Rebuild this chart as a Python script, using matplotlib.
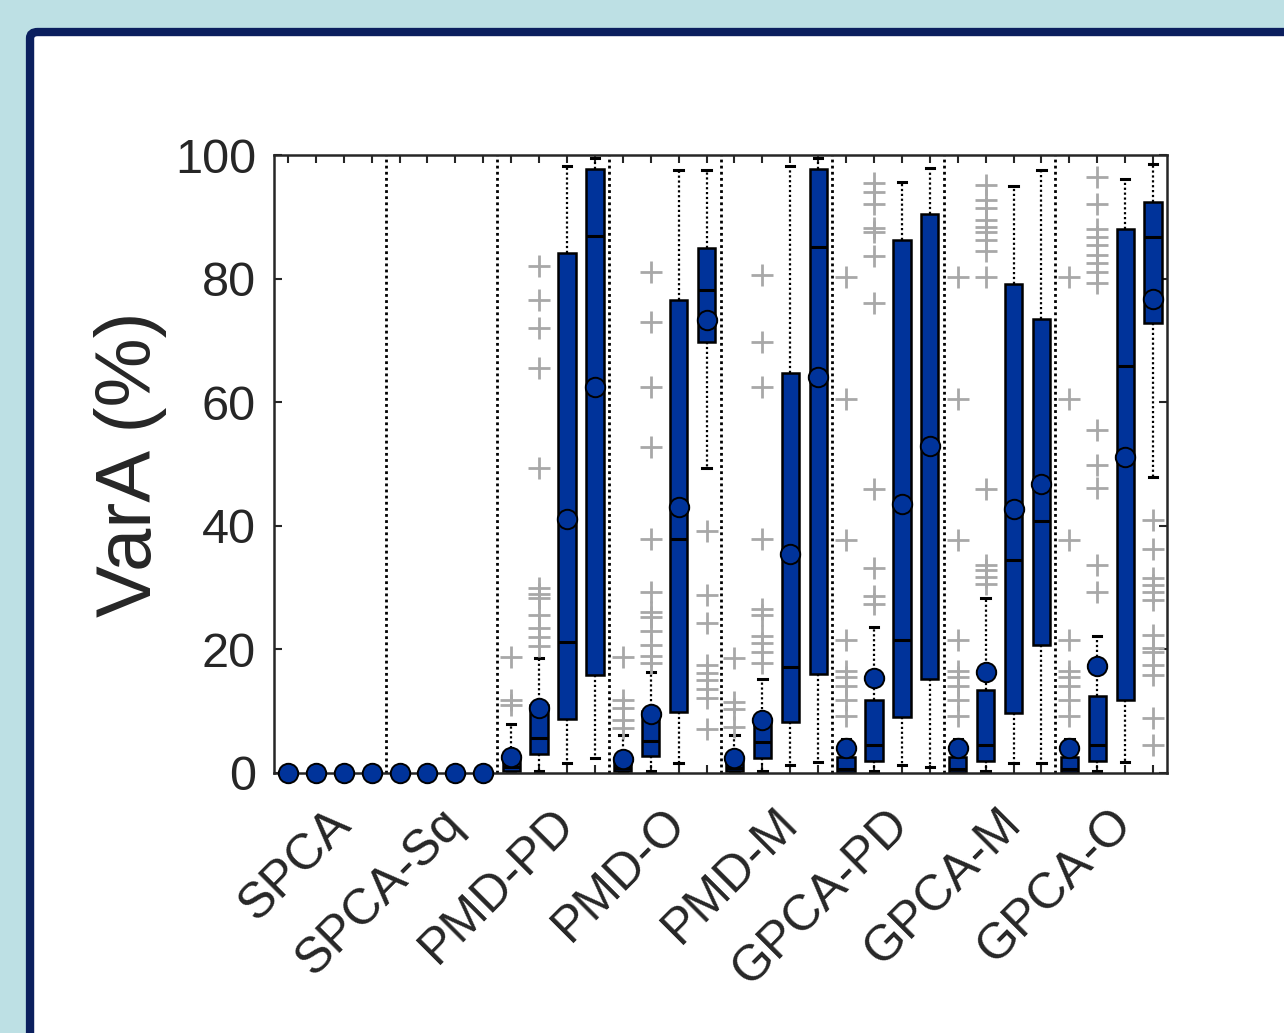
import numpy as np
import matplotlib.pyplot as plt
from matplotlib.patches import FancyBboxPatch

plt.rcParams['font.family'] = ['Liberation Sans', 'DejaVu Sans']

methods = ['SPCA', 'SPCA-Sq', 'PMD-PD', 'PMD-O', 'PMD-M', 'GPCA-PD', 'GPCA-M', 'GPCA-O']

# 4 boxes per method, 32 boxes in all
q1 = [0] * 8 + [0.3, 3.0, 8.8, 15.8,
                0.3, 2.7, 9.9, 69.7,
                0.3, 2.5, 8.3, 16.1,
                0.2, 2.0, 9.1, 15.2,
                0.2, 2.0, 9.7, 20.7,
                0.2, 2.0, 11.8, 72.9]
med = [0] * 8 + [1.0, 5.7, 21.2, 86.9,
                 0.8, 5.2, 37.8, 78.2,
                 0.8, 5.0, 17.1, 85.2,
                 0.6, 4.5, 21.5, 53.0,
                 0.6, 4.5, 34.5, 40.7,
                 0.6, 4.5, 65.8, 86.8]
q3 = [0] * 8 + [2.4, 11.0, 84.1, 97.7,
                2.0, 10.1, 76.6, 85.0,
                2.0, 8.8, 64.8, 97.7,
                2.6, 11.8, 86.3, 90.4,
                2.6, 13.5, 79.2, 73.4,
                2.6, 12.5, 88.0, 92.4]
whislo = [0] * 8 + [0, 0.3, 1.6, 2.4,
                    0, 0.3, 1.6, 49.4,
                    0, 0.3, 1.3, 1.8,
                    0, 0.3, 1.3, 1.0,
                    0, 0.3, 1.6, 1.6,
                    0, 0.3, 1.8, 47.9]
whishi = [0] * 8 + [8.0, 18.6, 98.2, 99.6,
                    6.2, 16.3, 97.6, 97.6,
                    6.2, 15.2, 98.2, 99.6,
                    5.5, 23.7, 95.7, 97.9,
                    5.5, 28.3, 95.0, 97.6,
                    5.5, 22.2, 96.2, 98.6]
means = [0] * 8 + [2.6, 10.5, 41.1, 62.4,
                   2.3, 9.6, 43.1, 73.3,
                   2.4, 8.6, 35.4, 64.1,
                   4.0, 15.4, 43.6, 52.9,
                   4.0, 16.3, 42.8, 46.7,
                   4.0, 17.3, 51.2, 76.7]

outl_first = [80.2, 60.6, 37.7, 21.5, 16.5, 15.5, 14.0, 11.8, 9.3]
outliers = [[]] * 8 + [
    [18.8, 11.8, 11.0],
    [82, 76.5, 72, 65.5, 49.3, 30, 29, 28.3, 25.5, 23.5, 22, 20.5],
    [], [],
    [18.8, 11.8, 10.5, 8.5, 7.3],
    [81, 73, 62.5, 52.7, 37.8, 29.3, 26, 25.2, 23, 20.7, 19, 17.8],
    [],
    [39.2, 28.8, 24.2, 17.5, 16.2, 15, 13.6, 12.2, 7.1],
    [18.6, 11.5, 10.3, 7.4],
    [80.6, 69.8, 62.5, 37.8, 26.6, 25.6, 22.2, 21, 19.5, 17.8],
    [], [],
    outl_first,
    [95.5, 94, 92, 88.2, 87.6, 83.6, 76.1, 46, 33.1, 28.6, 27.4],
    [], [],
    outl_first,
    [95.2, 92.8, 91.4, 89.5, 88.3, 87.5, 86.2, 84.5, 80.2, 46, 33.7, 32.8, 31.7, 30.6],
    [], [],
    outl_first,
    [96.5, 92.1, 88, 86.8, 85.4, 83.8, 82.5, 81, 79.3, 55.5, 49.8, 46.1, 33.6, 29.3],
    [],
    [41, 36.2, 31.6, 30.4, 29.3, 28, 22.3, 20.2, 19.6, 17.5, 15.9, 8.9, 4.5],
]

navy = '#00339a'
frame = '#0b1f5e'
dark = '#262626'

stats = []
for i in range(32):
    stats.append(dict(q1=q1[i], med=med[i], q3=q3[i], whislo=whislo[i],
                      whishi=whishi[i], mean=means[i],
                      fliers=np.array(outliers[i], dtype=float)))

fig = plt.figure(figsize=(12.84, 10.33), dpi=100)
fig.patch.set_facecolor('#bde0e4')

panel = FancyBboxPatch((0.0234, -0.1), 1.2, 0.969 + 0.1,
                       boxstyle='round,pad=0,rounding_size=0.006',
                       transform=fig.transFigure, facecolor='white',
                       edgecolor=frame, linewidth=6, zorder=-1)
fig.patches.append(panel)

ax = fig.add_axes([0.2134, 0.2517, 0.6955, 0.5982])

pos = np.arange(1, 33)
for k in range(1, 8):
    ax.axvline(4 * k + 0.5, color='black', linestyle=(0, (1, 1.2)),
               linewidth=2, zorder=0.5)

res = ax.bxp(stats, positions=pos, widths=0.62, patch_artist=True,
             showmeans=True, showfliers=True, capwidths=0.3,
             boxprops=dict(facecolor=navy, edgecolor='black', linewidth=1.8),
             medianprops=dict(color='black', linewidth=2.2),
             whiskerprops=dict(color='black', linestyle=(0, (1, 1.2)), linewidth=1.6),
             capprops=dict(color='black', linewidth=2.2),
             meanprops=dict(marker='o', markerfacecolor=navy,
                            markeredgecolor='black', markersize=14,
                            markeredgewidth=1.4),
             flierprops=dict(marker='+', markeredgecolor='#a8a8a8',
                             markersize=16, markeredgewidth=2,
                             linestyle='none'))
for m in res['means']:
    m.set_clip_on(False)
    m.set_zorder(5)

ax.set_xlim(0.5, 32.5)
ax.set_ylim(0, 100)
ax.set_xticks(pos)
ax.set_xticklabels([])
ax.set_yticks(np.arange(0, 101, 20))
ax.tick_params(axis='both', direction='in', top=True, right=True,
               length=6, width=1.5, color=dark)
ax.tick_params(axis='y', labelsize=35, labelcolor=dark, pad=13)
for s in ax.spines.values():
    s.set_color(dark)
    s.set_linewidth(1.8)

for g, name in enumerate(methods):
    ax.text(4 * g + 2.5 + 0.5, -0.07, name, transform=ax.get_xaxis_transform(),
            rotation=45, rotation_mode='anchor', ha='right', va='center',
            fontsize=36, color=dark)

ax.set_ylabel('VarA (%)', fontsize=56, color=dark)
ax.yaxis.set_label_coords(-0.12, 0.5)

fig.savefig('out.png', dpi=100, facecolor=fig.get_facecolor())
